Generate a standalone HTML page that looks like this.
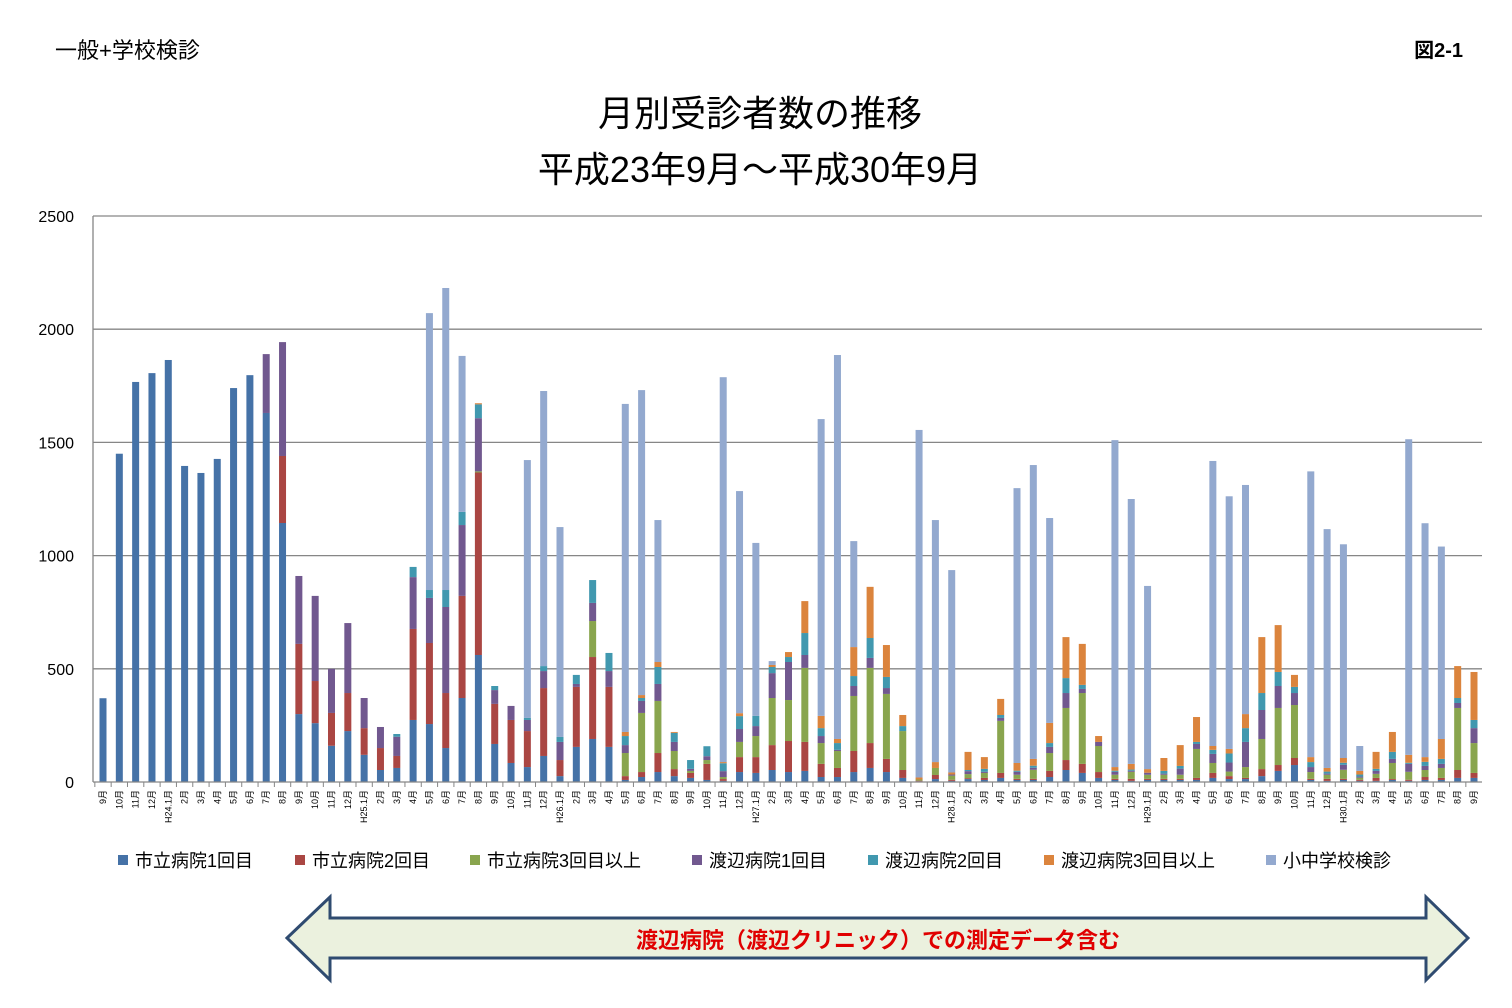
<!DOCTYPE html>
<html><head><meta charset="utf-8">
<style>
body{margin:0;background:#fff;font-family:"Liberation Sans","Noto Sans CJK JP",sans-serif;}
#wrap{position:relative;width:1512px;height:1008px;overflow:hidden;}
</style></head>
<body>
<div id="wrap">
<svg id="chart" width="1512" height="1008" xmlns="http://www.w3.org/2000/svg">
  <text x="55" y="58" font-size="22" fill="#000" font-family="Liberation Sans, Noto Sans CJK JP, sans-serif">一般+学校検診</text>
  <text x="1463" y="57" font-size="20" font-weight="bold" text-anchor="end" fill="#000" font-family="Liberation Sans, Noto Sans CJK JP, sans-serif">図2-1</text>
  <text x="760" y="126" font-size="36" text-anchor="middle" fill="#000" font-family="Liberation Sans, Noto Sans CJK JP, sans-serif">月別受診者数の推移</text>
  <text x="760" y="182" font-size="36" text-anchor="middle" fill="#000" font-family="Liberation Sans, Noto Sans CJK JP, sans-serif">平成23年9月～平成30年9月</text>
  <g id="grid"></g>
  <g id="bars"></g>
  <g id="axes"></g>
  <g id="legend"></g>
  <g>
    <polygon points="287,938 330,897 330,918 1426,918 1426,897 1468,938 1426,980 1426,958 330,958 330,980" fill="#EBF1DE" stroke="#2F4B70" stroke-width="3"/>
    <text x="878" y="948" font-size="22" font-weight="bold" fill="#E00000" text-anchor="middle" font-family="Liberation Sans, Noto Sans CJK JP, sans-serif">渡辺病院（渡辺クリニック）での測定データ含む</text>
  </g>
</svg>
</div>
<script>
const seriesNames = ["市立病院1回目","市立病院2回目","市立病院3回目以上","渡辺病院1回目","渡辺病院2回目","渡辺病院3回目以上","小中学校検診"];
const seriesColors = ["#4572A7","#AA4643","#89A54E","#71588F","#4198AF","#DB843D","#93A9CF"];
const yTicks = [0,500,1000,1500,2000,2500];
const categories = ["9月","10月","11月","12月","H24.1月","2月","3月","4月","5月","6月","7月","8月","9月","10月","11月","12月","H25.1月","2月","3月","4月","5月","6月","7月","8月","9月","10月","11月","12月","H26.1月","2月","3月","4月","5月","6月","7月","8月","9月","10月","11月","12月","H27.1月","2月","3月","4月","5月","6月","7月","8月","9月","10月","11月","12月","H28.1月","2月","3月","4月","5月","6月","7月","8月","9月","10月","11月","12月","H29.1月","2月","3月","4月","5月","6月","7月","8月","9月","10月","11月","12月","H30.1月","2月","3月","4月","5月","6月","7月","8月","9月"];
const shiritsu1 = [370,1450,1767,1806,1864,1396,1365,1427,1740,1797,1630,1144,300,260,160,225,120,53,62,274,256,150,371,561,168,84,66,115,26,155,190,155,9,22,44,26,18,9,5,44,40,53,44,49,22,22,44,62,44,18,3,13,5,13,9,18,9,9,22,53,40,18,9,5,9,9,9,9,18,13,13,26,49,75,9,5,9,5,5,9,5,9,9,18,18];
const shiritsu2 = [0,0,0,0,0,0,0,0,0,0,0,296,310,186,145,168,118,97,53,402,358,243,451,806,177,190,159,300,71,265,362,265,17,22,84,31,22,71,8,66,70,110,137,128,58,40,93,110,58,35,3,18,5,4,9,22,5,5,27,44,40,26,5,9,5,5,5,9,22,13,5,31,26,31,5,9,5,5,13,4,5,13,9,35,22];
const shiritsu3 = [0,0,0,0,0,0,0,0,0,0,0,0,0,0,0,0,0,0,0,0,0,0,0,5,0,0,0,0,0,0,159,0,102,261,230,80,9,17,9,67,93,208,181,327,92,75,243,332,287,172,5,31,18,18,22,230,18,40,79,230,313,115,18,31,18,18,18,128,44,20,48,133,252,234,30,18,40,9,18,71,35,31,44,274,132];
const watanabe1 = [0,0,0,0,0,0,0,0,0,0,260,503,300,376,195,309,133,93,85,229,199,380,313,235,61,62,49,75,80,13,80,70,35,53,75,40,9,17,26,57,44,110,168,57,31,5,44,44,26,0,0,0,5,13,5,13,13,9,27,66,18,18,13,5,9,5,27,22,40,40,111,128,97,53,22,5,22,5,13,18,35,18,18,22,66];
const watanabe2 = [0,0,0,0,0,0,0,0,0,0,0,0,0,0,0,0,0,0,12,45,35,75,58,61,18,0,9,22,22,40,101,80,40,13,75,40,39,44,35,57,45,27,22,97,35,30,44,88,49,22,0,0,0,5,13,13,5,9,17,66,18,0,5,5,0,12,12,9,18,40,61,75,62,27,22,9,9,9,9,31,5,18,22,22,36];
const watanabe3 = [0,0,0,0,0,0,0,0,0,0,0,0,0,0,0,0,0,0,0,0,0,0,0,5,0,0,0,0,0,0,0,0,18,13,22,4,0,0,5,13,0,9,22,141,54,18,128,226,141,49,9,26,9,80,52,71,34,30,89,181,181,26,16,25,16,57,92,110,17,20,62,247,207,53,22,16,21,16,75,88,35,21,88,141,212];
const school = [0,0,0,0,0,0,0,0,0,0,0,0,0,0,0,0,0,0,0,0,1223,1334,689,0,0,0,1139,1215,927,0,0,0,1449,1347,627,0,0,0,1700,981,764,17,0,0,1311,1696,468,0,0,0,1535,1069,894,0,0,0,1214,1298,905,0,0,0,1444,1170,809,0,0,0,1259,1116,1012,0,0,0,1262,1055,944,110,0,0,1394,1033,850,0,0];
const seriesData = [shiritsu1,shiritsu2,shiritsu3,watanabe1,watanabe2,watanabe3,school];

const NS="http://www.w3.org/2000/svg";
const plotL=93, plotR=1482, plotTop=216, plotBot=782, yMax=2500;
const firstX=103, stepX=(1474-103)/(categories.length-1);
function yScale(v){return plotBot-(v/yMax)*(plotBot-plotTop);}
function xScale(i){return firstX+i*stepX;}
function mk(tag,attrs,parent){const e=document.createElementNS(NS,tag);for(const k in attrs)e.setAttribute(k,attrs[k]);parent.appendChild(e);return e;}

const grid=document.getElementById('grid'), axes=document.getElementById('axes'), bars=document.getElementById('bars'), legend=document.getElementById('legend');
yTicks.forEach(t=>{
  const y=yScale(t);
  if(t>0){const l=mk('line',{x1:plotL,x2:plotR,y1:y,y2:y,stroke:'#868686','stroke-width':1.3},grid);
    
    }
  const tx=mk('text',{x:74,y:y+6,'font-size':16,'text-anchor':'end',fill:'#000'},axes);
  tx.textContent=t;
  
  
});
const ya=mk('line',{x1:plotL,x2:plotL,y1:plotTop,y2:plotBot,stroke:'#868686','stroke-width':1.3},axes);


const xa=mk('line',{x1:plotL,x2:plotR,y1:plotBot,y2:plotBot,stroke:'#868686','stroke-width':1.3},axes);



categories.forEach((c,i)=>{
  const x=xScale(i);
  const tk=mk('line',{x1:x-stepX/2,x2:x-stepX/2,y1:plotBot,y2:plotBot+5,stroke:'#868686'},axes);
  
  
  const t=mk('text',{x:0,y:0,'font-size':9,'text-anchor':'end',fill:'#000',transform:`translate(${x+3},${plotBot+8}) rotate(-90)`},axes);
  t.textContent=c;
  
  
  let cum=0;
  seriesData.forEach((arr,s)=>{
    const v=arr[i]; if(!v) return;
    const y0=yScale(cum), y1=yScale(cum+v);
    const r=mk('rect',{x:x-3.5,y:y1,width:7,height:y0-y1,fill:seriesColors[s]},bars);
    
    
    cum+=v;
  });
});

const legX=[118,295,470,692,868,1044,1266];
seriesNames.forEach((n,s)=>{
  const r=mk('rect',{x:legX[s],y:855,width:10,height:10,fill:seriesColors[s]},legend);
  
  
  const t=mk('text',{x:legX[s]+17,y:867,'font-size':18,fill:'#000'},legend);
  t.textContent=n;
  
  
});
</script>
</body></html>
